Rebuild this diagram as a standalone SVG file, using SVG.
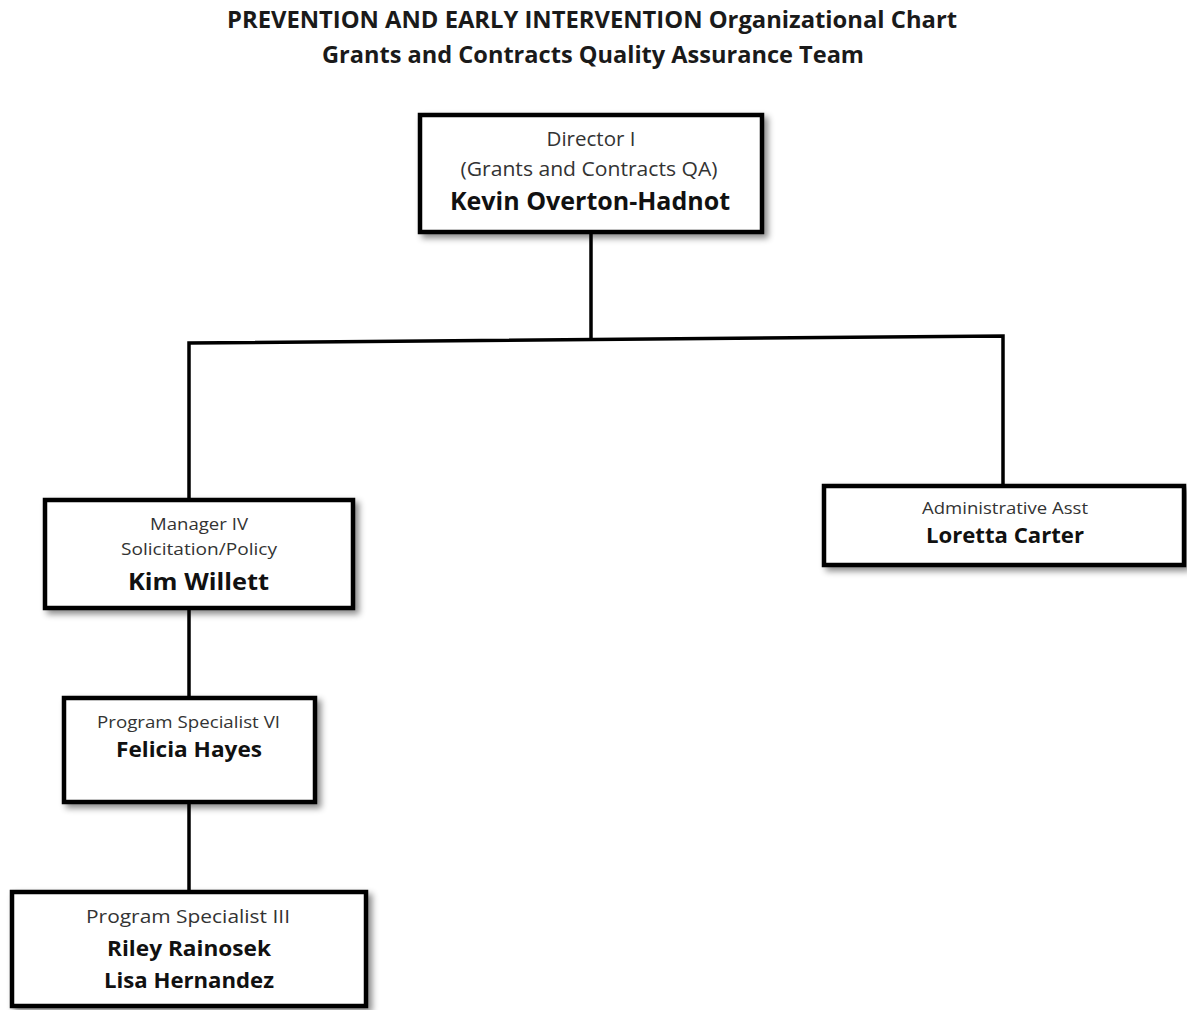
<svg xmlns="http://www.w3.org/2000/svg" width="1187" height="1010" viewBox="0 0 1187 1010">
<style>
.box{fill:#fff;stroke:#000;stroke-width:4.5;filter:url(#sh)}
.lbl{font-family:"Open Sans","Liberation Sans",sans-serif;fill:#333;text-anchor:middle}
.nm{font-family:"Open Sans","Liberation Sans",sans-serif;font-weight:bold;fill:#111;text-anchor:middle}
.ttl{font-family:"Open Sans","Liberation Sans",sans-serif;font-weight:bold;fill:#1a1a1a;text-anchor:middle;font-size:24px}
.con{fill:none;stroke:#000;stroke-width:3.5}
</style>
<defs>
<filter id="sh" x="-10%" y="-10%" width="125%" height="135%">
<feDropShadow dx="4" dy="4" stdDeviation="3" flood-color="#000" flood-opacity="0.45"/>
</filter>
</defs>
<rect width="1187" height="1010" fill="#fff"/>
<g id="title">
<text class="ttl" x="592" y="28" textLength="730" lengthAdjust="spacingAndGlyphs">PREVENTION AND EARLY INTERVENTION Organizational Chart</text>
<text class="ttl" x="593" y="63" textLength="542" lengthAdjust="spacingAndGlyphs">Grants and Contracts Quality Assurance Team</text>
</g>
<g id="connectors">
<path class="con" d="M591 233 V340"/>
<path class="con" d="M189 498 V343 L1003 336 V484"/>
<path class="con" d="M189 610 V696"/>
<path class="con" d="M189 804 V890"/>
</g>
<g id="director">
<rect class="box" x="420" y="115" width="342" height="117"/>
<text class="lbl" x="591" y="146" font-size="20" textLength="89" lengthAdjust="spacingAndGlyphs">Director I</text>
<text class="lbl" x="589" y="176" font-size="20" textLength="257" lengthAdjust="spacingAndGlyphs">(Grants and Contracts QA)</text>
<text class="nm" x="590" y="210" font-size="25" textLength="280" lengthAdjust="spacingAndGlyphs">Kevin Overton-Hadnot</text>
</g>
<g id="admin">
<rect class="box" x="824" y="486" width="360" height="79"/>
<text class="lbl" x="1005" y="514" font-size="16" textLength="166" lengthAdjust="spacingAndGlyphs">Administrative Asst</text>
<text class="nm" x="1005" y="543" font-size="21" textLength="158" lengthAdjust="spacingAndGlyphs">Loretta Carter</text>
</g>
<g id="manager">
<rect class="box" x="45" y="500" width="308" height="108"/>
<text class="lbl" x="199" y="530" font-size="17" textLength="98" lengthAdjust="spacingAndGlyphs">Manager IV</text>
<text class="lbl" x="199" y="555" font-size="17" textLength="156" lengthAdjust="spacingAndGlyphs">Solicitation/Policy</text>
<text class="nm" x="198.5" y="590" font-size="23" textLength="141" lengthAdjust="spacingAndGlyphs">Kim Willett</text>
</g>
<g id="felicia">
<rect class="box" x="64" y="698" width="251" height="104"/>
<text class="lbl" x="188.5" y="728" font-size="17" textLength="183" lengthAdjust="spacingAndGlyphs">Program Specialist VI</text>
<text class="nm" x="189" y="757" font-size="21" textLength="146" lengthAdjust="spacingAndGlyphs">Felicia Hayes</text>
</g>
<g id="ps3">
<rect class="box" x="12" y="892" width="354" height="114"/>
<text class="lbl" x="188" y="923" font-size="18" textLength="204" lengthAdjust="spacingAndGlyphs">Program Specialist III</text>
<text class="nm" x="189" y="956" font-size="21" textLength="164" lengthAdjust="spacingAndGlyphs">Riley Rainosek</text>
<text class="nm" x="189" y="988" font-size="21" textLength="170" lengthAdjust="spacingAndGlyphs">Lisa Hernandez</text>
</g>
</svg>
